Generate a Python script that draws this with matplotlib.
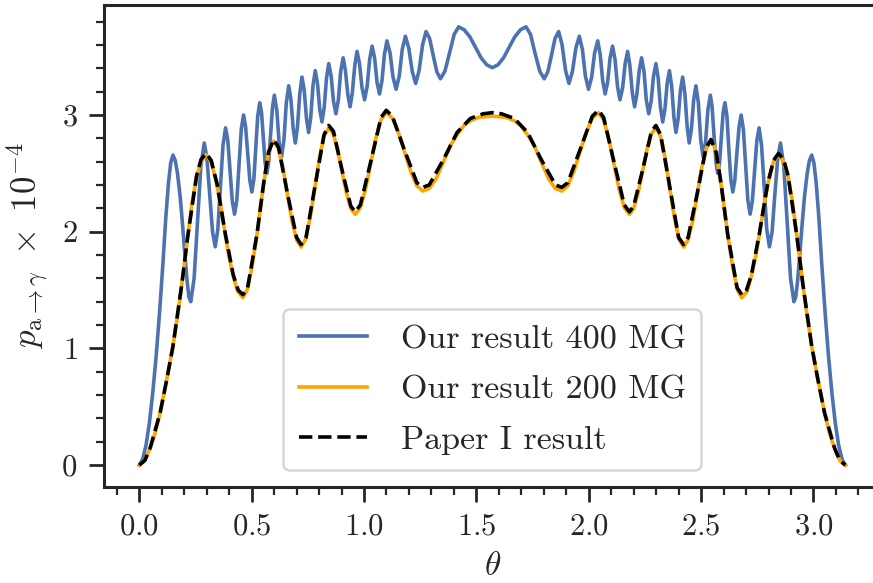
import matplotlib
matplotlib.use("Agg")
import matplotlib.pyplot as plt
from matplotlib.ticker import MultipleLocator

# our result, 400 MG (blue)
blue_x = [
    0.000, 0.015, 0.030, 0.045, 0.060, 0.075, 0.090, 0.105, 0.118, 0.130, 0.140, 0.150,
    0.160, 0.170, 0.182, 0.193, 0.203, 0.213, 0.221, 0.229, 0.244, 0.259, 0.274, 0.289,
    0.301, 0.3135, 0.326, 0.338, 0.3495, 0.361, 0.3725, 0.384, 0.394, 0.404, 0.414, 0.424,
    0.434, 0.444, 0.454, 0.464, 0.473, 0.4825, 0.492, 0.501, 0.510, 0.5185, 0.527, 0.536,
    0.544, 0.552, 0.560, 0.568, 0.576, 0.5845, 0.593, 0.601, 0.612, 0.622, 0.633, 0.644,
    0.654, 0.665, 0.675, 0.685, 0.6945, 0.704, 0.714, 0.724, 0.734, 0.744, 0.7535, 0.763,
    0.773, 0.783, 0.793, 0.803, 0.813, 0.823, 0.833, 0.843, 0.854, 0.864, 0.875, 0.886,
    0.896, 0.907, 0.917, 0.928, 0.938, 0.948, 0.959, 0.969, 0.980, 0.991, 1.0025, 1.014,
    1.025, 1.036, 1.047, 1.058, 1.069, 1.080, 1.091, 1.102, 1.116, 1.129, 1.143, 1.157,
    1.170, 1.184, 1.199, 1.215, 1.230, 1.245, 1.261, 1.276, 1.292, 1.308, 1.324, 1.340,
    1.360, 1.3805, 1.401, 1.421, 1.446, 1.471, 1.496, 1.521, 1.546, 1.571,
    1.596, 1.621, 1.646, 1.671, 1.696, 1.721, 1.741, 1.761, 1.782, 1.802, 1.818, 1.834,
    1.850, 1.866, 1.881, 1.897, 1.912, 1.927, 1.943, 1.958, 1.972, 1.985, 1.999, 2.013,
    2.026, 2.040, 2.051, 2.062, 2.073, 2.084, 2.095, 2.106, 2.117, 2.128, 2.139, 2.151,
    2.162, 2.173, 2.183, 2.194, 2.204, 2.214, 2.225, 2.235, 2.246, 2.256, 2.267, 2.278,
    2.288, 2.299, 2.309, 2.319, 2.329, 2.339, 2.349, 2.359, 2.369, 2.379, 2.388, 2.398,
    2.408, 2.418, 2.428, 2.438, 2.447, 2.457, 2.467, 2.477, 2.488, 2.498, 2.509, 2.520,
    2.530, 2.541, 2.549, 2.557, 2.566, 2.574, 2.582, 2.590, 2.598, 2.606, 2.615, 2.623,
    2.632, 2.641, 2.650, 2.659, 2.669, 2.678, 2.688, 2.698, 2.708, 2.718, 2.728, 2.738,
    2.748, 2.758, 2.769, 2.781, 2.792, 2.804, 2.816, 2.828, 2.841, 2.853, 2.868, 2.883,
    2.898, 2.913, 2.921, 2.929, 2.939, 2.949, 2.960, 2.972, 2.982, 2.992, 3.002, 3.012,
    3.024, 3.037, 3.052, 3.067, 3.082, 3.097, 3.112, 3.127, 3.1416,
]
blue_y = [
    0.00, 0.05, 0.17, 0.36, 0.62, 0.93, 1.30, 1.72, 2.12, 2.42, 2.59, 2.656,
    2.61, 2.50, 2.30, 2.05, 1.80, 1.57, 1.44, 1.40, 1.60, 2.08, 2.56, 2.76,
    2.63, 2.315, 2.00, 1.87, 2.02, 2.38, 2.74, 2.89, 2.78, 2.52, 2.26, 2.15,
    2.27, 2.575, 2.88, 3.00, 2.90, 2.67, 2.44, 2.34, 2.45, 2.72, 2.99, 3.105,
    3.02, 2.80, 2.59, 2.50, 2.60, 2.835, 3.07, 3.17, 3.04, 2.77, 2.64, 2.79,
    3.10, 3.25, 3.13, 2.88, 2.76, 2.90, 3.18, 3.325, 3.21, 2.97, 2.85, 2.98,
    3.25, 3.38, 3.27, 3.05, 2.94, 3.065, 3.315, 3.44, 3.33, 3.12, 3.01, 3.13,
    3.37, 3.49, 3.385, 3.175, 3.07, 3.19, 3.425, 3.545, 3.44, 3.235, 3.13, 3.245,
    3.475, 3.59, 3.49, 3.28, 3.18, 3.295, 3.52, 3.635, 3.53, 3.325, 3.22, 3.335,
    3.56, 3.675, 3.575, 3.37, 3.27, 3.38, 3.605, 3.715, 3.655, 3.51, 3.37, 3.31,
    3.375, 3.53, 3.69, 3.755, 3.73, 3.67, 3.58, 3.49, 3.43, 3.405,
    3.43, 3.49, 3.58, 3.67, 3.73, 3.755, 3.69, 3.53, 3.375, 3.31, 3.37, 3.51,
    3.655, 3.715, 3.605, 3.38, 3.27, 3.37, 3.575, 3.675, 3.56, 3.335, 3.22, 3.325,
    3.53, 3.635, 3.52, 3.295, 3.18, 3.28, 3.49, 3.59, 3.475, 3.245, 3.13, 3.235,
    3.44, 3.545, 3.425, 3.19, 3.07, 3.175, 3.385, 3.49, 3.37, 3.13, 3.01, 3.12,
    3.33, 3.44, 3.315, 3.065, 2.94, 3.05, 3.27, 3.38, 3.25, 2.98, 2.85, 2.97,
    3.21, 3.325, 3.18, 2.90, 2.76, 2.88, 3.13, 3.25, 3.10, 2.79, 2.64, 2.77,
    3.04, 3.17, 3.07, 2.835, 2.60, 2.50, 2.59, 2.80, 3.02, 3.105, 2.99, 2.72,
    2.45, 2.34, 2.44, 2.67, 2.90, 3.00, 2.88, 2.575, 2.27, 2.15, 2.26, 2.52,
    2.78, 2.89, 2.74, 2.38, 2.02, 1.87, 2.00, 2.315, 2.63, 2.76, 2.56, 2.08,
    1.60, 1.40, 1.44, 1.57, 1.80, 2.05, 2.30, 2.50, 2.61, 2.656, 2.59, 2.42,
    2.12, 1.72, 1.30, 0.93, 0.62, 0.36, 0.17, 0.05, 0.00,
]

# our result, 200 MG (orange)
orange_x = [
    0.000, 0.025, 0.049, 0.070, 0.093, 0.123, 0.150, 0.172, 0.190, 0.215, 0.235, 0.255,
    0.275, 0.298, 0.320, 0.346, 0.365, 0.383, 0.400, 0.418, 0.437, 0.461, 0.480, 0.500,
    0.524, 0.540, 0.553, 0.570, 0.585, 0.598, 0.618, 0.639, 0.659, 0.679, 0.700, 0.720,
    0.7405, 0.761, 0.7815, 0.802, 0.8225, 0.843, 0.8627, 0.8823, 0.902, 0.9217, 0.9413, 0.961,
    0.984, 1.007, 1.030, 1.053, 1.076, 1.099, 1.126, 1.153, 1.1805, 1.208, 1.235, 1.262,
    1.290, 1.320, 1.354, 1.385, 1.414, 1.445, 1.473, 1.510, 1.571,
    1.632, 1.669, 1.697, 1.728, 1.757, 1.788, 1.822, 1.852, 1.880, 1.907, 1.934, 1.961,
    1.989, 2.016, 2.043, 2.066, 2.089, 2.112, 2.135, 2.158, 2.181, 2.200, 2.220, 2.240,
    2.259, 2.279, 2.299, 2.319, 2.340, 2.360, 2.381, 2.401, 2.422, 2.442, 2.463, 2.483,
    2.503, 2.524, 2.544, 2.557, 2.572, 2.589, 2.602, 2.618, 2.642, 2.662, 2.681, 2.705,
    2.724, 2.742, 2.759, 2.777, 2.796, 2.822, 2.844, 2.867, 2.887, 2.907, 2.927, 2.952,
    2.970, 2.992, 3.019, 3.049, 3.072, 3.093, 3.117, 3.1416,
]
orange_y = [
    0.00, 0.04, 0.15, 0.27, 0.45, 0.74, 1.02, 1.30, 1.56, 1.95, 2.25, 2.47,
    2.60, 2.66, 2.60, 2.40, 2.19, 1.97, 1.78, 1.62, 1.49, 1.434, 1.50, 1.68,
    1.98, 2.22, 2.40, 2.62, 2.74, 2.776, 2.715, 2.55, 2.32, 2.095, 1.93, 1.868,
    1.936, 2.124, 2.379, 2.635, 2.82, 2.89, 2.84, 2.705, 2.519, 2.334, 2.198, 2.148,
    2.206, 2.366, 2.5835, 2.801, 2.961, 3.019, 2.974, 2.851, 2.6835, 2.516, 2.393, 2.348,
    2.37, 2.45, 2.60, 2.74, 2.83, 2.91, 2.95, 2.98, 2.99,
    2.98, 2.95, 2.91, 2.83, 2.74, 2.60, 2.45, 2.37, 2.348, 2.393, 2.516, 2.6835,
    2.851, 2.974, 3.019, 2.961, 2.801, 2.5835, 2.366, 2.206, 2.148, 2.198, 2.334, 2.519,
    2.705, 2.84, 2.89, 2.82, 2.635, 2.379, 2.124, 1.936, 1.868, 1.93, 2.095, 2.32,
    2.55, 2.715, 2.776, 2.74, 2.62, 2.40, 2.22, 1.98, 1.68, 1.50, 1.434, 1.49,
    1.62, 1.78, 1.97, 2.19, 2.40, 2.60, 2.66, 2.60, 2.47, 2.25, 1.95, 1.56,
    1.30, 1.02, 0.74, 0.45, 0.27, 0.15, 0.04, 0.00,
]

# Paper I result (black dashed), coarser sampling
paper_x = [
    0.000, 0.025, 0.049, 0.093, 0.123, 0.150, 0.190, 0.215, 0.255, 0.275, 0.298, 0.320,
    0.346, 0.383, 0.418, 0.440, 0.461, 0.482, 0.524, 0.553, 0.575, 0.598, 0.620, 0.659,
    0.700, 0.720, 0.742, 0.782, 0.822, 0.843, 0.864, 0.902, 0.941, 0.961, 0.984, 1.030,
    1.076, 1.099, 1.126, 1.180, 1.235, 1.262, 1.290, 1.354, 1.414, 1.473, 1.530, 1.571,
    1.612, 1.669, 1.728, 1.788, 1.852, 1.880, 1.907, 1.961, 2.016, 2.043, 2.066, 2.112,
    2.158, 2.181, 2.200, 2.240, 2.279, 2.299, 2.320, 2.360, 2.400, 2.422, 2.442, 2.483,
    2.522, 2.544, 2.567, 2.589, 2.618, 2.660, 2.681, 2.702, 2.724, 2.759, 2.796, 2.822,
    2.844, 2.867, 2.887, 2.927, 2.952, 2.992, 3.019, 3.049, 3.093, 3.117, 3.1416,
]
paper_y = [
    0.00, 0.04, 0.15, 0.45, 0.74, 1.02, 1.56, 1.95, 2.48, 2.62, 2.67, 2.61,
    2.41, 1.98, 1.63, 1.50, 1.46, 1.52, 1.98, 2.41, 2.68, 2.79, 2.72, 2.33,
    1.95, 1.89, 1.95, 2.39, 2.83, 2.91, 2.86, 2.53, 2.22, 2.17, 2.23, 2.60,
    2.98, 3.04, 2.99, 2.70, 2.42, 2.38, 2.40, 2.62, 2.85, 2.97, 3.01, 3.02,
    3.01, 2.97, 2.85, 2.62, 2.40, 2.38, 2.42, 2.70, 2.99, 3.04, 2.98, 2.60,
    2.23, 2.17, 2.22, 2.53, 2.86, 2.91, 2.83, 2.39, 1.95, 1.89, 1.95, 2.33,
    2.72, 2.79, 2.68, 2.41, 1.98, 1.52, 1.46, 1.50, 1.63, 1.98, 2.41, 2.61,
    2.67, 2.62, 2.48, 1.95, 1.56, 1.02, 0.74, 0.45, 0.15, 0.04, 0.00,
]

labels = ["Our result 400 MG", "Our result 200 MG", "Paper I result"]

plt.rcParams["font.family"] = "serif"
plt.rcParams["font.serif"] = ["cmr10", "DejaVu Serif"]
plt.rcParams["mathtext.fontset"] = "cm"
plt.rcParams["axes.formatter.use_mathtext"] = True

dark = "#262626"
fig = plt.figure(figsize=(8.73, 5.83), dpi=100)
ax = fig.add_axes([0.1191, 0.1647, 0.8896, 0.8268])

ax.plot(blue_x, blue_y, color="#4C72B0", lw=2.6, label=labels[0])
ax.plot(orange_x, orange_y, color="orange", lw=2.6, label=labels[1])
ax.plot(paper_x, paper_y, color="black", lw=2.6, ls="--", label=labels[2])

ax.xaxis.set_major_locator(MultipleLocator(0.5))
ax.xaxis.set_minor_locator(MultipleLocator(0.1))
ax.yaxis.set_major_locator(MultipleLocator(1))
ax.yaxis.set_minor_locator(MultipleLocator(0.2))

for sp in ax.spines.values():
    sp.set_linewidth(2.2)
    sp.set_color(dark)
ax.tick_params(which="major", length=11, width=2, color=dark, labelsize=22, labelcolor=dark, pad=8)
ax.tick_params(which="minor", length=6, width=1.6, color=dark)

ax.set_xlabel(r"$\theta$", fontsize=24, color=dark, labelpad=8)
ax.set_ylabel(r"$p_{\mathrm{a}\to\gamma}\ \times\ 10^{-4}$", fontsize=25, color=dark, labelpad=8)

leg = ax.legend(loc="lower center", fontsize=24.5, frameon=True, fancybox=True,
                borderpad=0.45, labelspacing=0.6, handlelength=2.0, handletextpad=1.0,
                borderaxespad=0.5)
leg.get_frame().set_edgecolor("0.8")
leg.get_frame().set_linewidth(1.8)
for t in leg.get_texts():
    t.set_color(dark)

fig.savefig("out.png", dpi=100)
